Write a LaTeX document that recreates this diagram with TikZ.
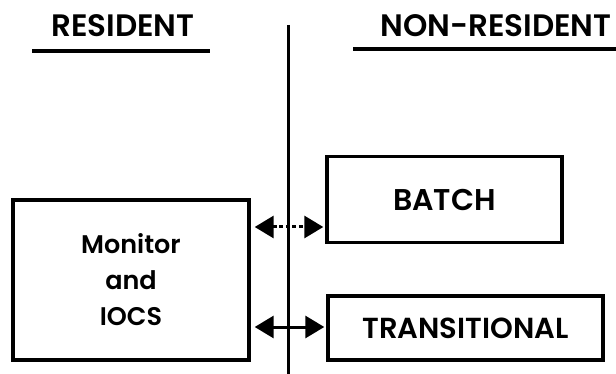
\documentclass[tikz,border=0pt]{standalone}
\usepackage{fontspec}
\setmainfont{Poppins}[UprightFont={* SemiBold}]
\usetikzlibrary{arrows.meta}
\tikzset{
  box/.style={draw, line width=3.4pt, inner sep=0pt},
  head/.style={anchor=base, font=\fontsize{31}{36}\selectfont},
  link/.style={line width=3pt, {Triangle[length=19pt,width=22pt]}-{Triangle[length=19pt,width=22pt]}},
}
\begin{document}
\begin{tikzpicture}[x=1pt, y=-1pt]
  \useasboundingbox (0,0) rectangle (616,374);
  % cabecalhos
  \node[head] (res) at (123,37) {RESIDENT};
  \node[head] (nonres) at (496,37) {NON-RESIDENT};
  \draw[line width=3.4pt] (32,51) -- (210,51);
  \draw[line width=3.4pt] (353,49) -- (616,49);
  % divisoria
  \draw[line width=3pt] (288,25) -- (288,374);
  % caixas
  \node[box, minimum width=236pt, minimum height=160pt, align=center,
        font=\fontsize{25.5}{36}\selectfont] (monitor) at (131,280) {Monitor\\and\\IOCS};
  \node[box, minimum width=235pt, minimum height=86pt,
        font=\fontsize{30}{36}\selectfont] (batch) at (444.5,199.5) {BATCH};
  \node[box, minimum width=275pt, minimum height=64pt,
        font=\fontsize{29}{36}\selectfont] (trans) at (465.5,328) {TRANSITIONAL};
  % ligacoes
  \coordinate (l1) at (0,227);
  \coordinate (l2) at (0,327);
  \draw[link, dash pattern=on 4pt off 2.5pt] ([xshift=4pt]monitor.east |- l1) -- ([xshift=-2pt]batch.west |- l1);
  \draw[link] ([xshift=4pt]monitor.east |- l2) -- ([xshift=-2pt]trans.west |- l2);
\end{tikzpicture}
\end{document}
